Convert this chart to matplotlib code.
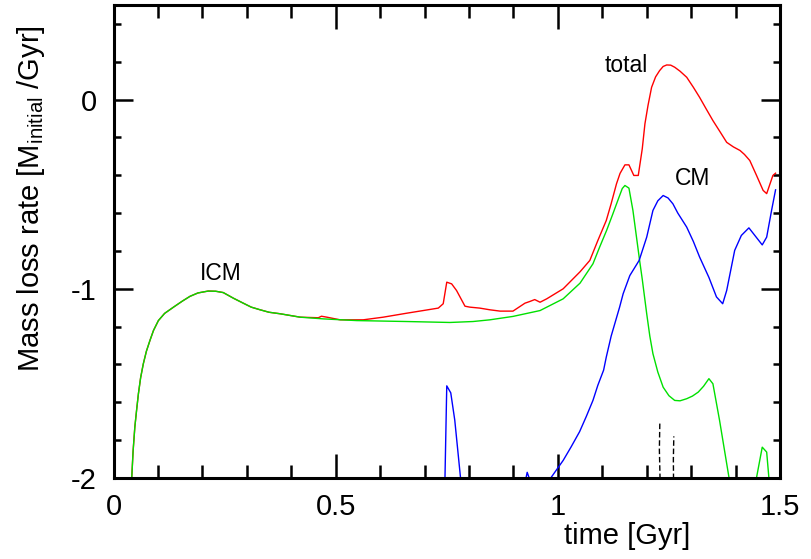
import numpy as np
import matplotlib
matplotlib.use("Agg")
import matplotlib.pyplot as plt
from matplotlib.ticker import MultipleLocator

plt.rcParams['font.family'] = ['Liberation Sans', 'DejaVu Sans']
plt.rcParams['axes.unicode_minus'] = False
plt.rcParams['mathtext.default'] = 'regular'

# ICM stripping rate (green); NaN separates the late bump
t_icm = [0.036, 0.041, 0.044, 0.048, 0.052, 0.056, 0.061, 0.067, 0.074, 0.082,
         0.090, 0.101, 0.115, 0.135, 0.155, 0.172, 0.190, 0.213, 0.230, 0.247,
         0.270, 0.292, 0.310, 0.330, 0.350, 0.375, 0.420, 0.472, 0.547, 0.660,
         0.757, 0.809, 0.847, 0.899, 0.960, 1.012, 1.050, 1.079, 1.094, 1.110,
         1.124, 1.137, 1.145, 1.151, 1.160, 1.169, 1.184, 1.190, 1.200, 1.207,
         1.214, 1.225, 1.237, 1.250, 1.263, 1.275, 1.290, 1.303, 1.316, 1.328,
         1.340, 1.349, 1.364, 1.385, 1.390, np.nan,
         1.444, 1.447, 1.460, 1.470, 1.475, 1.478]
r_icm = [-2.10, -2.00, -1.86, -1.73, -1.64, -1.555, -1.47, -1.397, -1.33, -1.273,
         -1.22, -1.168, -1.13, -1.097, -1.065, -1.040, -1.022, -1.012, -1.013, -1.020,
         -1.05, -1.076, -1.097, -1.111, -1.124, -1.132, -1.150, -1.159, -1.168, -1.173,
         -1.178, -1.173, -1.164, -1.146, -1.115, -1.053, -0.970, -0.868, -0.780, -0.69,
         -0.603, -0.52, -0.47, -0.454, -0.468, -0.586, -0.850, -0.95, -1.132, -1.25,
         -1.343, -1.44, -1.520, -1.565, -1.590, -1.592, -1.581, -1.567, -1.546, -1.515,
         -1.475, -1.502, -1.696, -1.995, -2.05, np.nan,
         -2.10, -2.00, -1.837, -1.863, -2.00, -2.10]

# total rate (red)
t_total = [0.036, 0.041, 0.044, 0.048, 0.052, 0.056, 0.061, 0.067, 0.074, 0.082,
           0.090, 0.101, 0.115, 0.135, 0.155, 0.172, 0.190, 0.213, 0.230, 0.247,
           0.270, 0.292, 0.310, 0.330, 0.350, 0.375, 0.420, 0.461, 0.468, 0.480,
           0.510, 0.562, 0.607, 0.660, 0.697, 0.731, 0.742, 0.750, 0.761, 0.772,
           0.791, 0.802, 0.824, 0.847, 0.870, 0.899, 0.926, 0.937, 0.948, 0.960,
           0.975, 1.012, 1.050, 1.072, 1.090, 1.109, 1.120, 1.132, 1.140, 1.151,
           1.160, 1.171, 1.181, 1.190, 1.196, 1.203, 1.211, 1.220, 1.229, 1.237,
           1.245, 1.254, 1.263, 1.275, 1.290, 1.305, 1.319, 1.334, 1.349, 1.365,
           1.380, 1.395, 1.410, 1.420, 1.432, 1.447, 1.462, 1.470, 1.484, 1.490]
r_total = [-2.10, -2.00, -1.86, -1.73, -1.64, -1.555, -1.47, -1.397, -1.33, -1.273,
           -1.22, -1.168, -1.13, -1.097, -1.065, -1.040, -1.022, -1.012, -1.013, -1.020,
           -1.05, -1.076, -1.097, -1.111, -1.124, -1.132, -1.150, -1.153, -1.145, -1.150,
           -1.164, -1.164, -1.150, -1.129, -1.115, -1.102, -1.079, -0.965, -0.974, -1.009,
           -1.092, -1.097, -1.102, -1.111, -1.118, -1.118, -1.076, -1.067, -1.057, -1.071,
           -1.053, -1.000, -0.910, -0.850, -0.745, -0.639, -0.55, -0.445, -0.39, -0.345,
           -0.345, -0.401, -0.401, -0.26, -0.128, -0.03, 0.065, 0.12, 0.153, 0.175,
           0.183, 0.182, 0.171, 0.15, 0.118, 0.065, 0.012, -0.05, -0.111, -0.17,
           -0.226, -0.25, -0.269, -0.29, -0.322, -0.40, -0.480, -0.497, -0.401, -0.389]

# CM rate (blue)
t_cm = [0.744, 0.746, 0.750, 0.759, 0.768, 0.781, 0.782, np.nan,
        0.924, 0.931, 0.943, np.nan,
        0.982, 0.984, 1.012, 1.030, 1.049, 1.064, 1.079, 1.090, 1.103, 1.109,
        1.120, 1.139, 1.147, 1.162, 1.183, 1.200, 1.214, 1.225, 1.237, 1.248,
        1.259, 1.270, 1.290, 1.305, 1.319, 1.340, 1.357, 1.371, 1.380, 1.398,
        1.413, 1.430, 1.460, 1.470, 1.481, 1.490]
r_cm = [-2.10, -1.997, -1.513, -1.550, -1.694, -2.00, -2.10, np.nan,
        -2.05, -1.970, -2.05, np.nan,
        -2.05, -2.00, -1.907, -1.835, -1.755, -1.675, -1.590, -1.51, -1.430, -1.361,
        -1.25, -1.097, -1.026, -0.930, -0.850, -0.727, -0.586, -0.535, -0.507, -0.52,
        -0.551, -0.60, -0.674, -0.75, -0.832, -0.94, -1.043, -1.079, -1.009, -0.797,
        -0.718, -0.678, -0.768, -0.727, -0.586, -0.477]

# short dashed spikes (black)
t_other = [1.2305, 1.2285, 1.2295, np.nan, 1.2605, 1.2600, 1.2610]
r_other = [-2.05, -1.85, -1.71, np.nan, -2.05, -1.90, -1.78]

fig = plt.figure(figsize=(8.12, 5.59), dpi=100)
ax = fig.add_axes([0.1398, 0.1449, 0.8208, 0.8462])

ax.plot(t_total, r_total, color='#ff0000', lw=1.0)
ax.plot(t_icm, r_icm, color='#00e000', lw=1.0)
ax.plot(t_cm, r_cm, color='#0000ff', lw=1.0)
ax.plot(t_other, r_other, color='black', lw=1.0, dashes=(4, 2))

ax.text(0.195, -0.956, 'ICM', fontsize=16.5, ha='left', va='baseline')
ax.text(1.106, 0.144, 'total', fontsize=16.5, ha='left', va='baseline')
ax.text(1.263, -0.449, 'CM', fontsize=16.5, ha='left', va='baseline')

ax.set_xlim(0, 1.5)
ax.set_ylim(-2, 0.5)
ax.xaxis.set_major_locator(MultipleLocator(0.5))
ax.xaxis.set_minor_locator(MultipleLocator(0.1))
ax.yaxis.set_major_locator(MultipleLocator(1))
ax.yaxis.set_minor_locator(MultipleLocator(0.2))
ax.xaxis.set_major_formatter(plt.FuncFormatter(lambda v, p: f'{v:g}'))
ax.yaxis.set_major_formatter(plt.FuncFormatter(lambda v, p: f'{v:g}'))

for s in ax.spines.values():
    s.set_linewidth(2.2)
ax.tick_params(which='both', direction='in', top=True, right=True, width=1.8,
               labelsize=21)
ax.tick_params(axis='x', which='major', length=17, pad=11)
ax.tick_params(axis='x', which='minor', length=9.5)
ax.tick_params(axis='y', which='major', length=14, pad=12)
ax.tick_params(axis='y', which='minor', length=5)

ax.set_xlabel('time [Gyr]', fontsize=21)
ax.xaxis.set_label_coords(0.77, -0.093)
ax.set_ylabel('Mass loss rate [M$_{initial}$ /Gyr]', fontsize=21)
ax.yaxis.set_label_coords(-0.1, 0.59)

fig.savefig('out.png', dpi=100)
